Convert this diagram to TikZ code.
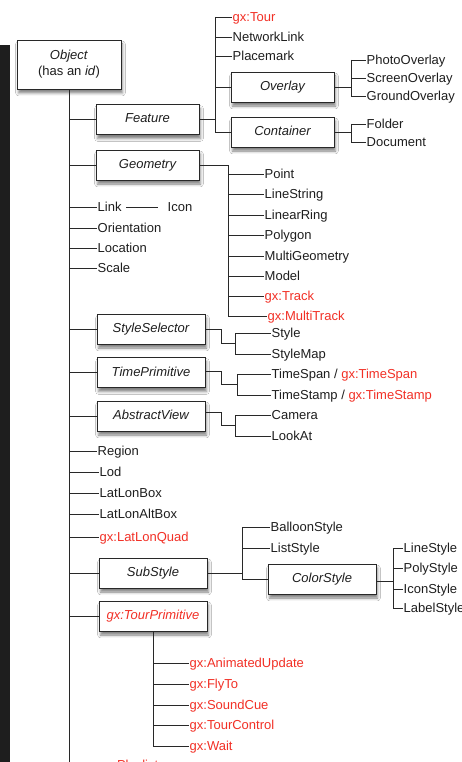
\documentclass[tikz,border=0pt]{standalone}
\usepackage{fontspec}
\setmainfont{Liberation Sans}
\usetikzlibrary{calc,shadows.blur}
\definecolor{gxred}{RGB}{242,48,38}
\definecolor{ink}{RGB}{30,30,30}
\definecolor{wire}{RGB}{40,40,40}
\definecolor{sidebar}{RGB}{30,30,30}

\begin{document}
\begin{tikzpicture}[x=1pt,y=-1pt,
  every node/.style={font=\fontsize{13}{16}\selectfont, text=ink},
  boxbase/.style={draw=wire, line width=0.9pt, fill=white, inner sep=0pt,
    blur shadow={shadow xshift=1.5pt, shadow yshift=-4pt, shadow blur radius=2.8pt, shadow opacity=50}},
  cls/.style={boxbase, minimum height=30pt, text height=9.5pt, text depth=2.5pt,
    font=\fontsize{13}{16}\selectfont\itshape},
  leaf/.style={anchor=west, inner xsep=0.5pt, inner ysep=0pt, text height=9.3pt, text depth=0pt},
  gx/.style={text=gxred},
  wire/.style={draw=wire, line width=0.9pt}
]
\useasboundingbox (0,0) rectangle (462,762);
\clip (0,0) rectangle (462,762);
\fill[white] (0,0) rectangle (462,762);
\fill[sidebar] (0,45) rectangle (10,762);

% bracket columns
\coordinate (fb) at (215,0);
\coordinate (ob) at (351,0);
\coordinate (gb) at (228,0);
\coordinate (ea) at (221,0);
\coordinate (sb) at (235,0);
\coordinate (tb) at (237,0);
\coordinate (subb) at (242,0);
\coordinate (cb) at (393,0);
\coordinate (bottom) at (0,770);

% root
\node[boxbase, minimum width=104pt, minimum height=49pt, align=center] (obj) at (69,64.5)
  {\textit{Object}\\(has an \textit{id})};

% abstract classes on the trunk
\node[cls, minimum width=103pt] (feat) at (147.5,119.5) {Feature};
\node[cls, minimum width=103pt] (geom) at (147.5,165) {Geometry};
\node[cls, minimum width=108pt] (ss) at (151,329) {StyleSelector};
\node[cls, minimum width=108pt] (tp) at (151,372.5) {TimePrimitive};
\node[cls, minimum width=108pt] (av) at (151,416) {AbstractView};
\node[cls, minimum width=108pt] (sub) at (153,573) {SubStyle};
\node[cls, minimum width=108pt, text=gxred] (tour) at (153,616) {gx:TourPrimitive};

% Feature subtree
\node[leaf,gx] (gtour) at (232,17) {gx:Tour};
\node[leaf] (nlink) at (232,37) {NetworkLink};
\node[leaf] (pmark) at (232,56) {Placemark};
\node[cls, minimum width=103pt] (ovl) at (282.5,87) {Overlay};
\node[cls, minimum width=103pt] (cont) at (282.5,132) {Container};
\node[leaf] (photo) at (366,60) {PhotoOverlay};
\node[leaf] (screen) at (366,78) {ScreenOverlay};
\node[leaf] (ground) at (366,96) {GroundOverlay};
\node[leaf] (folder) at (366,124) {Folder};
\node[leaf] (doc) at (366,142) {Document};

% Geometry subtree
\node[leaf] (point) at (264,174) {Point};
\node[leaf] (lstr) at (264,194) {LineString};
\node[leaf] (lring) at (264,215) {LinearRing};
\node[leaf] (poly) at (264,235) {Polygon};
\node[leaf] (mgeom) at (264,256) {MultiGeometry};
\node[leaf] (model) at (264,276) {Model};
\node[leaf,gx] (track) at (264,296) {gx:Track};
\node[leaf,gx] (mtrack) at (267,316) {gx:MultiTrack};

% simple trunk leaves
\node[leaf] (link) at (97,207) {Link};
\node[leaf] (icon) at (167,207) {Icon};
\node[leaf] (orient) at (97,228) {Orientation};
\node[leaf] (loc) at (97,248) {Location};
\node[leaf] (scale) at (97,268) {Scale};
\node[leaf] (region) at (97,451) {Region};
\node[leaf] (lod) at (99,472) {Lod};
\node[leaf] (llb) at (99,493) {LatLonBox};
\node[leaf] (llab) at (99,514) {LatLonAltBox};
\node[leaf,gx] (llq) at (99,537) {gx:LatLonQuad};
\node[leaf,gx] (plist) at (99,765) {gx:Playlist};

% StyleSelector, TimePrimitive, AbstractView children
\node[leaf] (style) at (271,333) {Style};
\node[leaf] (smap) at (271,354) {StyleMap};
\node[leaf] (tspan) at (271,374) {TimeSpan / \textcolor{gxred}{gx:TimeSpan}};
\node[leaf] (tstamp) at (271,395) {TimeStamp / \textcolor{gxred}{gx:TimeStamp}};
\node[leaf] (cam) at (271,415) {Camera};
\node[leaf] (look) at (271,436) {LookAt};

% SubStyle subtree
\node[leaf] (balloon) at (270,527) {BalloonStyle};
\node[leaf] (list) at (270,548) {ListStyle};
\node[cls, minimum width=108pt] (color) at (322,579) {ColorStyle};
\node[leaf] (line) at (403,548) {LineStyle};
\node[leaf] (polys) at (403,568) {PolyStyle};
\node[leaf] (icons) at (403,589) {IconStyle};
\node[leaf] (label) at (403,608) {LabelStyle};

% TourPrimitive subtree
\node[leaf,gx] (anim) at (189,663) {gx:AnimatedUpdate};
\node[leaf,gx] (fly) at (189,684) {gx:FlyTo};
\node[leaf,gx] (sound) at (189,705) {gx:SoundCue};
\node[leaf,gx] (tctl) at (189,725) {gx:TourControl};
\node[leaf,gx] (wait) at (189,746) {gx:Wait};

% trunk
\draw[wire] (obj.south) -- (obj.south |- bottom);
\foreach \n in {feat,geom,ss,tp,av,sub,tour}
  \draw[wire] (\n.west -| obj.south) -- (\n.west);
\foreach \n in {link,orient,loc,scale,region,lod,llb,llab,llq,plist}
  \draw[wire] (\n.west -| obj.south) -- (\n.west);
\draw[wire] ([xshift=4pt]link.east) -- ([xshift=-9pt]icon.west);

% Feature
\draw[wire] (feat.east) -- (feat.east -| fb);
\draw[wire] (gtour.west -| fb) -- (cont.west -| fb);
\foreach \n in {gtour,nlink,pmark,ovl,cont}
  \draw[wire] (\n.west -| fb) -- (\n.west);
\draw[wire] (ovl.east) -- (ovl.east -| ob);
\draw[wire] (photo.west -| ob) -- (ground.west -| ob);
\draw[wire] (cont.east) -- (cont.east -| ob);
\draw[wire] (folder.west -| ob) -- (doc.west -| ob);
\foreach \n in {photo,screen,ground,folder,doc}
  \draw[wire] (\n.west -| ob) -- (\n.west);

% Geometry
\draw[wire] (geom.east) -- (geom.east -| gb) -- (mtrack.west -| gb);
\foreach \n in {point,lstr,lring,poly,mgeom,model,track,mtrack}
  \draw[wire] (\n.west -| gb) -- (\n.west);

% StyleSelector
\coordinate (ssm) at ($(style.west)!0.5!(smap.west)$);
\draw[wire] (ss.east) -| (ssm -| ea) -- (ssm -| sb);
\draw[wire] (style.west -| sb) -- (smap.west -| sb);
\foreach \n in {style,smap} \draw[wire] (\n.west -| sb) -- (\n.west);

% TimePrimitive
\coordinate (tpm) at ($(tspan.west)!0.5!(tstamp.west)$);
\draw[wire] ([yshift=1pt]tp.east) -| (tpm -| ea) -- (tpm -| tb);
\draw[wire] (tspan.west -| tb) -- (tstamp.west -| tb);
\foreach \n in {tspan,tstamp} \draw[wire] (\n.west -| tb) -- (\n.west);

% AbstractView
\coordinate (avm) at ($(cam.west)!0.5!(look.west)$);
\draw[wire] ([yshift=4pt]av.east) -| (avm -| ea) -- (avm -| sb);
\draw[wire] (cam.west -| sb) -- (look.west -| sb);
\foreach \n in {cam,look} \draw[wire] (\n.west -| sb) -- (\n.west);

% SubStyle
\draw[wire] (sub.east) -- (sub.east -| subb);
\draw[wire] (balloon.west -| subb) -- (color.west -| subb);
\foreach \n in {balloon,list,color} \draw[wire] (\n.west -| subb) -- (\n.west);

% ColorStyle
\draw[wire] ([yshift=-2pt]color.east) -- ([yshift=-2pt]color.east -| cb);
\draw[wire] (line.west -| cb) -- (label.west -| cb);
\foreach \n in {line,polys,icons,label} \draw[wire] (\n.west -| cb) -- (\n.west);

% TourPrimitive
\draw[wire] (tour.south) -- (tour.south |- wait.west);
\foreach \n in {anim,fly,sound,tctl,wait}
  \draw[wire] (\n.west -| tour.south) -- (\n.west);
\end{tikzpicture}
\end{document}
